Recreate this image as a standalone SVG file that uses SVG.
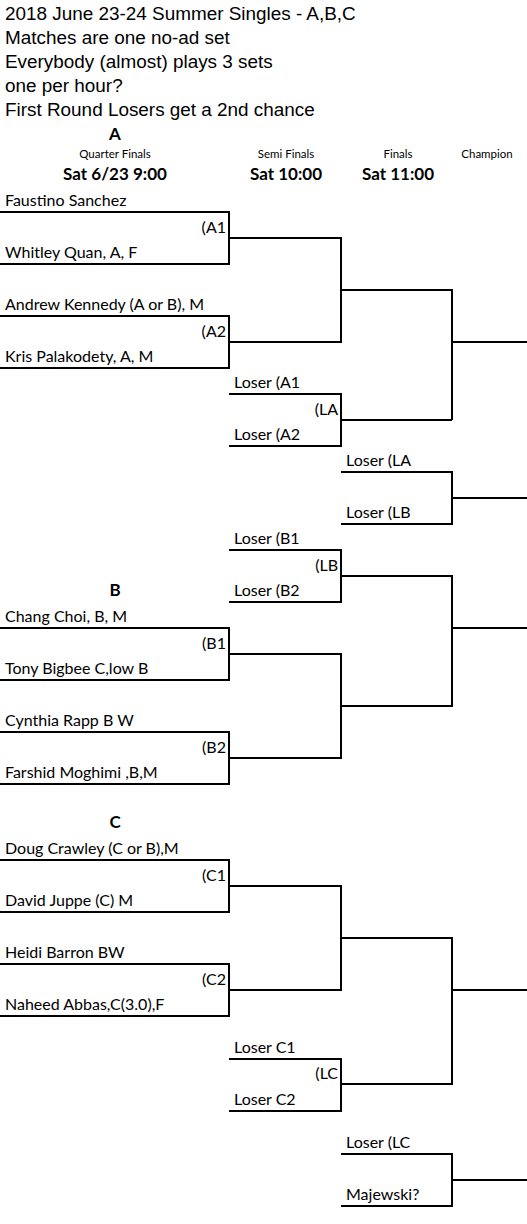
<svg xmlns="http://www.w3.org/2000/svg" width="527" height="1224" viewBox="0 0 527 1224">
<style>
.hd{font-family:"Liberation Sans",Arial,sans-serif;font-size:18.9px;fill:#000}
.nm{font-family:Lato,"Open Sans",sans-serif;font-size:16px;fill:#000}
.r{text-anchor:end}
.sm{font-family:Lato,"Open Sans",sans-serif;font-size:11.5px;fill:#000;text-anchor:middle}
.bd{font-family:Lato,"Open Sans",sans-serif;font-size:17px;font-weight:bold;fill:#000;text-anchor:middle}
.ln{fill:none;stroke:#000;stroke-width:2}
</style>
<rect width="527" height="1224" fill="#fff"/>
<g id="header">
<text class="hd" x="5" y="20">2018 June 23-24 Summer Singles - A,B,C</text>
<text class="hd" x="5" y="44">Matches are one no-ad set</text>
<text class="hd" x="5" y="68">Everybody (almost) plays 3 sets</text>
<text class="hd" x="5" y="92">one per hour?</text>
<text class="hd" x="5" y="116">First Round Losers get a 2nd chance</text>
<text class="bd" x="115" y="140">A</text>
<text class="sm" x="115" y="158">Quarter Finals</text>
<text class="sm" x="286" y="158">Semi Finals</text>
<text class="sm" x="398" y="158">Finals</text>
<text class="sm" x="487" y="158">Champion</text>
<text class="bd" x="115" y="180">Sat 6/23 9:00</text>
<text class="bd" x="286" y="180">Sat 10:00</text>
<text class="bd" x="398" y="180">Sat 11:00</text>
<text class="bd" x="115" y="596">B</text>
<text class="bd" x="115" y="828">C</text>
</g>
<g id="connectors">
<path class="ln" d="M0 212H229V264H0"/>
<path class="ln" d="M0 316H229V368H0"/>
<path class="ln" d="M229 238H341V342H229"/>
<path class="ln" d="M341 290H452V420"/>
<path class="ln" d="M452 342H527"/>
<path class="ln" d="M229 394H341V446H229"/>
<path class="ln" d="M341 420H452"/>
<path class="ln" d="M341 472H452V524H341"/>
<path class="ln" d="M452 498H527"/>
<path class="ln" d="M229 550H341V602H229"/>
<path class="ln" d="M341 576H452V706H341"/>
<path class="ln" d="M452 628H527"/>
<path class="ln" d="M0 628H229V680H0"/>
<path class="ln" d="M0 732H229V784H0"/>
<path class="ln" d="M229 654H341V758H229"/>
<path class="ln" d="M0 860H229V912H0"/>
<path class="ln" d="M0 964H229V1016H0"/>
<path class="ln" d="M229 886H341V990H229"/>
<path class="ln" d="M341 938H452V1084H341"/>
<path class="ln" d="M452 990H527"/>
<path class="ln" d="M229 1059H341V1111H229"/>
<path class="ln" d="M341 1154H452V1206H341"/>
<path class="ln" d="M452 1180H527"/>
</g>
<g id="matchA1"><text class="nm" x="5" y="206">Faustino Sanchez</text><text class="nm" x="5" y="258">Whitley Quan, A, F</text><text class="nm r" x="226" y="233">(A1</text></g>
<g id="matchA2"><text class="nm" x="5" y="310">Andrew Kennedy (A or B), M</text><text class="nm" x="5" y="362">Kris Palakodety, A, M</text><text class="nm r" x="226" y="337">(A2</text></g>
<g id="matchLA"><text class="nm" x="234" y="388">Loser (A1</text><text class="nm" x="234" y="440">Loser (A2</text><text class="nm r" x="338" y="415">(LA</text></g>
<g id="matchLL"><text class="nm" x="346" y="466">Loser (LA</text><text class="nm" x="346" y="518">Loser (LB</text></g>
<g id="matchLB"><text class="nm" x="234" y="544">Loser (B1</text><text class="nm" x="234" y="596">Loser (B2</text><text class="nm r" x="338" y="571">(LB</text></g>
<g id="matchB1"><text class="nm" x="5" y="622">Chang Choi, B, M</text><text class="nm" x="5" y="674">Tony Bigbee C,low B</text><text class="nm r" x="226" y="649">(B1</text></g>
<g id="matchB2"><text class="nm" x="5" y="726">Cynthia Rapp B W</text><text class="nm" x="5" y="778">Farshid Moghimi ,B,M</text><text class="nm r" x="226" y="753">(B2</text></g>
<g id="matchC1"><text class="nm" x="5" y="854">Doug Crawley (C or B),M</text><text class="nm" x="5" y="906">David Juppe (C) M</text><text class="nm r" x="226" y="881">(C1</text></g>
<g id="matchC2"><text class="nm" x="5" y="958">Heidi Barron BW</text><text class="nm" x="5" y="1010">Naheed Abbas,C(3.0),F</text><text class="nm r" x="226" y="985">(C2</text></g>
<g id="matchLC"><text class="nm" x="234" y="1053">Loser C1</text><text class="nm" x="234" y="1105">Loser C2</text><text class="nm r" x="338" y="1079">(LC</text></g>
<g id="matchLCF"><text class="nm" x="346" y="1148">Loser (LC</text><text class="nm" x="346" y="1200">Majewski?</text></g>
</svg>
